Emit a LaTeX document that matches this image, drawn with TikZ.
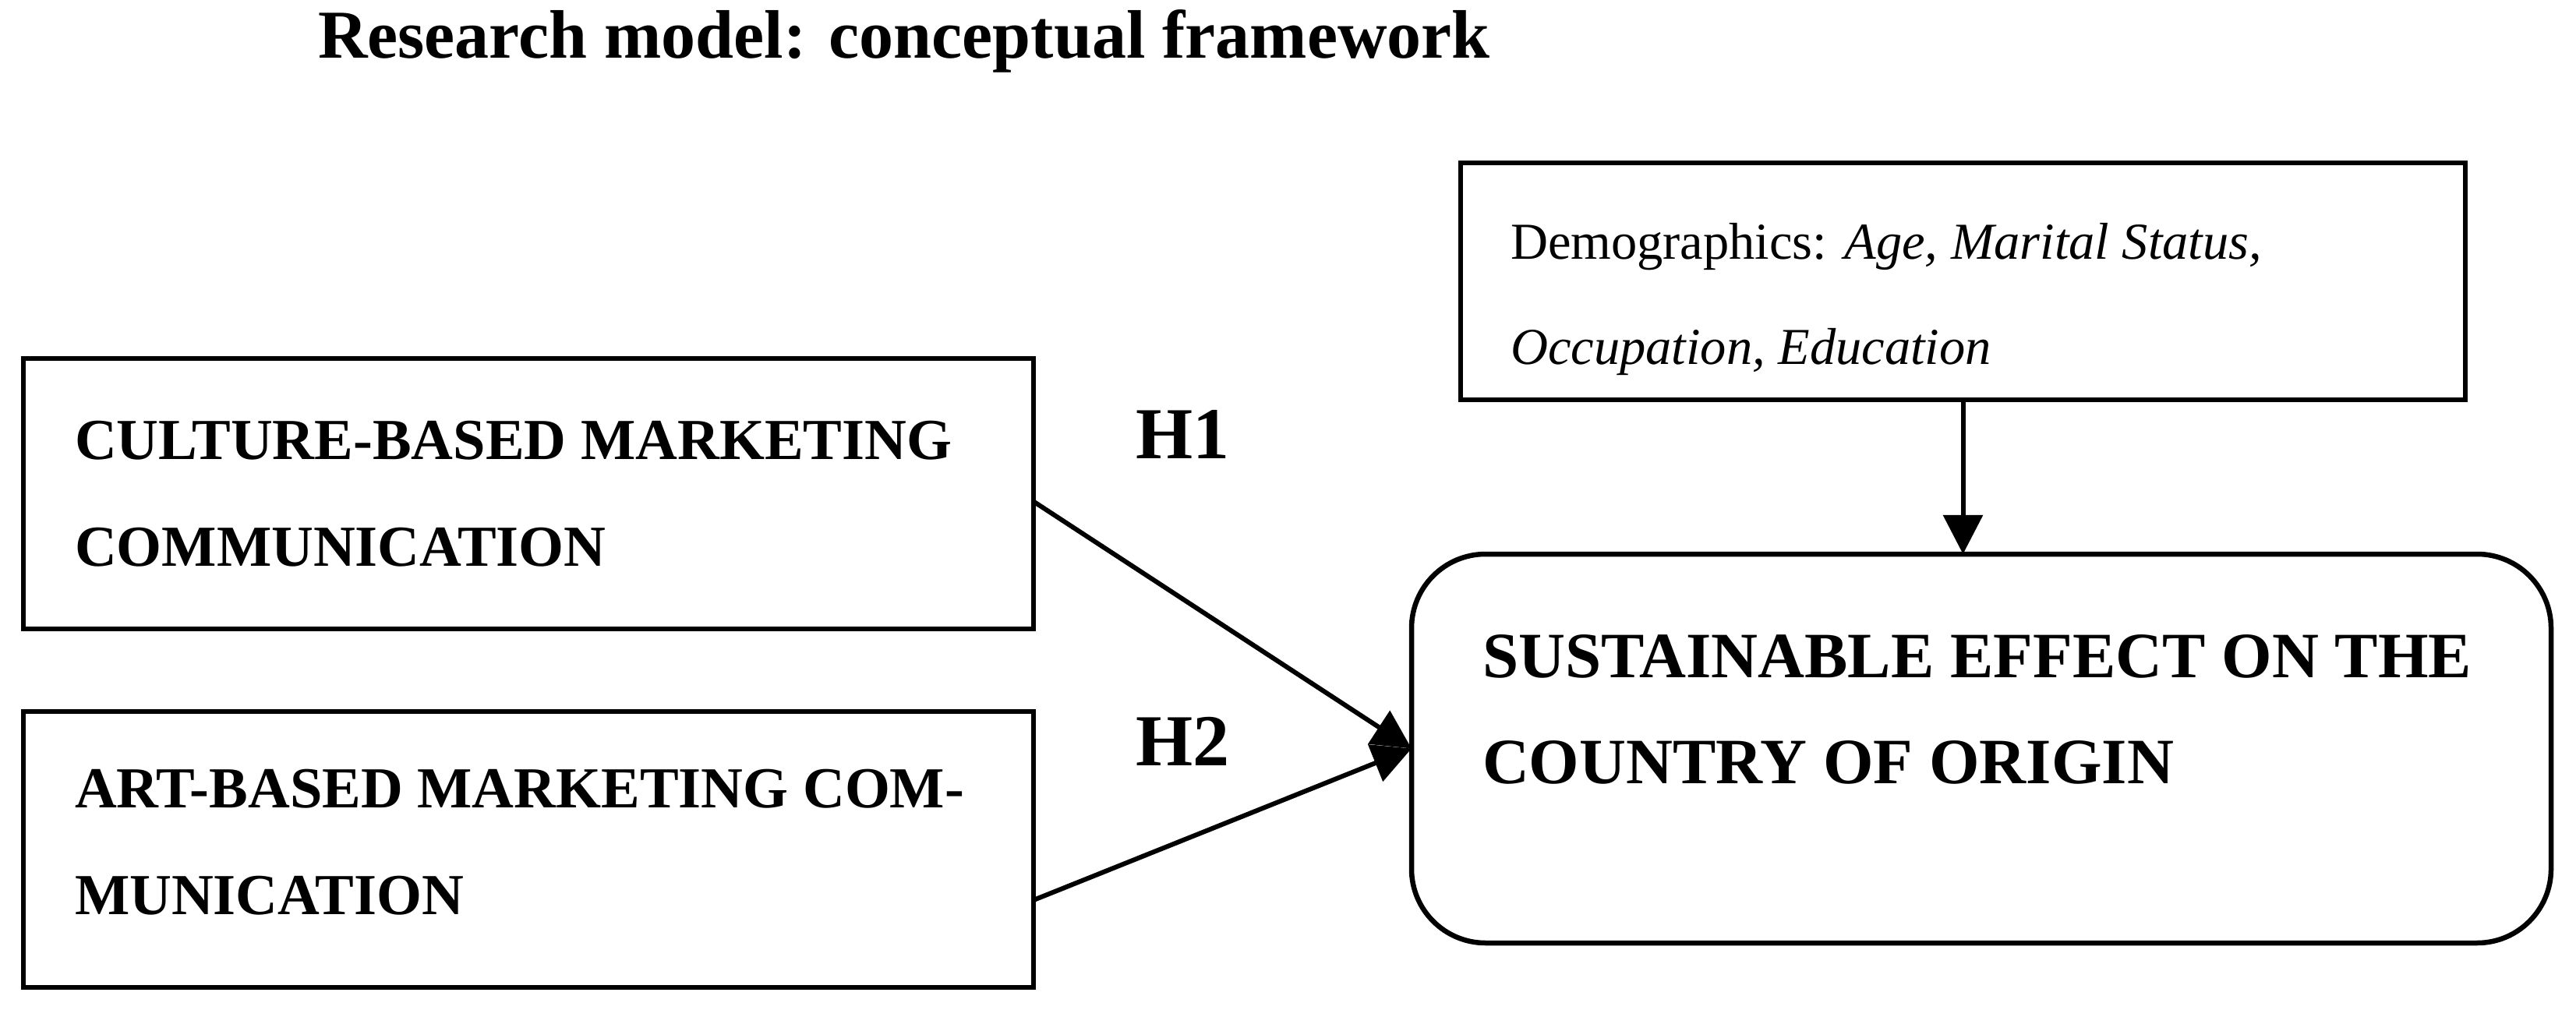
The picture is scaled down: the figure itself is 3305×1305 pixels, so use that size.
\documentclass[tikz,border=0pt]{standalone}
\usepackage{fontspec}
\setmainfont{Liberation Serif}
\usetikzlibrary{arrows.meta,calc}
\begin{document}
\begin{tikzpicture}[x=0.2pt,y=-0.2pt,
  box/.style={draw=black,line width=1.3pt,rectangle,inner sep=0pt,outer sep=0pt},
  rbox/.style={box,rounded corners=19pt},
  txt/.style={anchor=base west,inner sep=0pt,outer sep=0pt},
  boxfont/.style={font=\fontsize{14.9}{17}\bfseries\selectfont},
  sefont/.style={font=\fontsize{16.6}{19}\bfseries\selectfont},
  demfont/.style={font=\fontsize{13.3}{16}\selectfont},
  hfont/.style={font=\fontsize{18.8}{22}\bfseries\selectfont},
  conn/.style={line width=1.2pt,-{Triangle[length=10pt,width=10pt]}}]
\useasboundingbox (0,0) rectangle (3305,1305);
% title
\node[txt,font=\fontsize{17.6}{21}\bfseries\selectfont] (title) at (408,75) {Research model: conceptual framework};
% boxes
\node[box,minimum width=259.2pt,minimum height=69.4pt] (cb) at (678,633.5) {};
\node[box,minimum width=259.2pt,minimum height=70.8pt] (ab) at (678,1090) {};
\node[box,minimum width=257.8pt,minimum height=60.8pt] (demo) at (2518.5,361) {};
\node[rbox,minimum width=292.4pt,minimum height=99.8pt] (se) at (2542,960.5) {};
% texts
\node[txt,boxfont] (cb1) at (96,589) {CULTURE-BASED MARKETING};
\node[txt,boxfont] (cb2) at (96,726) {COMMUNICATION};
\node[txt,boxfont] (ab1) at (96,1036) {ART-BASED MARKETING COM-};
\node[txt,boxfont] (ab2) at (96,1173) {MUNICATION};
\node[txt,demfont] (d1) at (1938,333) {Demographics: \textit{Age, Marital Status,}};
\node[txt,demfont] (d2) at (1938,467) {\textit{Occupation, Education}};
\node[txt,sefont] (se1) at (1902,869) {SUSTAINABLE EFFECT ON THE};
\node[txt,sefont] (se2) at (1902,1005) {COUNTRY OF ORIGIN};
\node[txt,hfont] (h1) at (1457,588) {H1};
\node[txt,hfont] (h2) at (1457,982) {H2};
% connectors
\draw[conn] ($(cb.east)+(0,10)$) -- (se.west);
\draw[conn] ($(ab.east)+(0,65)$) -- (se.west);
\draw[conn] (demo.south) -- (demo.south |- se.north);
\end{tikzpicture}
\end{document}
